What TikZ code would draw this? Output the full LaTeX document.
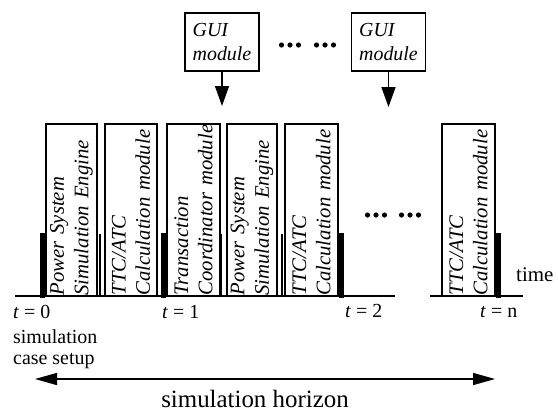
\documentclass[tikz,border=0pt]{standalone}
\usepackage{fontspec}
\setmainfont{Liberation Serif}
\usetikzlibrary{arrows.meta}
\hyphenpenalty=10000
\exhyphenpenalty=10000

\begin{document}
\begin{tikzpicture}[x=1bp,y=-1bp,
  stage/.style={draw, line width=1.3bp, rotate=90, minimum width=172bp,
    text width=171bp, inner xsep=0.5bp, inner ysep=0pt, align=left,
    font=\itshape\fontsize{20.8}{24.5}\selectfont},
  gui/.style={draw, line width=1.3bp, minimum width=74bp, minimum height=58bp,
    align=left, inner sep=0pt, font=\itshape\fontsize{20}{24}\selectfont},
  sepline/.style={line width=1.1bp},
  axisline/.style={line width=2.5bp},
  feed/.style={line width=1.4bp, -{Triangle[length=20bp,width=14bp]}},
  span/.style={line width=1.4bp,
    {Triangle[length=22bp,width=12bp]}-{Triangle[length=22bp,width=12bp]}},
  lbl/.style={anchor=base west, inner sep=0pt, font=\fontsize{20}{22}\selectfont}
]
\useasboundingbox (0,0) rectangle (558,411);

% time axis, split where the sequence is elided
\draw[axisline] (15,296) -- (395,296);
\draw[axisline] (430,296) -- (523,296);

% module stages along the time axis
\node[stage, minimum height=51bp] (s1) at (71.5,210) {Power System\\Simulation Engine};
\node[stage, minimum height=52bp] (s2) at (131,210) {TTC/ATC\\Calculation module};
\node[stage, minimum height=53bp] (s3) at (193.5,210) {Transaction\\Coordinator module};
\node[stage, minimum height=50bp] (s4) at (252,210) {Power System\\Simulation Engine};
\node[stage, minimum height=53bp] (s5) at (311.5,210) {TTC/ATC\\Calculation module};
\node[stage, minimum height=53bp] (s6) at (468.5,210) {TTC/ATC\\Calculation module};

% thin separators between consecutive modules
\draw[sepline] (100,234) -- (100,296);
\draw[sepline] (221.7,234) -- (221.7,296);
\draw[sepline] (282,234) -- (282,296);

% heavy markers at the time steps
\fill (40,233) rectangle (45,298);
\fill (161,233) rectangle (166,298);
\fill (339,233) rectangle (344,298);
\fill (496,233) rectangle (501,298);

% GUI modules feeding into the sequence
\node[gui] (g1) at (222,42) {GUI\\module};
\node[gui] (g2) at (388.5,42) {GUI\\module};
\coordinate (g1in) at (222,106);
\coordinate (g2in) at (388.5,107);
\draw[feed] (g1) -- (g1in);
\draw[feed] (g2) -- (g2in);

% ellipsis dots
\foreach \cx/\cy in {290/45, 325/45, 376/215, 410/215}
  \foreach \dx in {-8.5,0,8.5}
    \fill (\cx+\dx,\cy) circle (2.6bp);

% step labels
\node[lbl] (t0) at (13,318) {\textit{t} = 0};
\node[lbl] (t1) at (162,318) {\textit{t} = 1};
\node[lbl] (t2) at (345,317) {\textit{t} = 2};
\node[lbl] (tn) at (480,317) {\textit{t} = n};
\node[lbl] (setupa) at (13,343) {simulation};
\node[lbl] (setupb) at (13,364.5) {case setup};
\node[lbl, font=\fontsize{21}{24}\selectfont] (time) at (516,281) {time};

% simulation horizon
\coordinate (hl) at (35,379);
\coordinate (hr) at (495,379);
\draw[span] (hl) -- (hr);
\node[anchor=base, inner sep=0pt, font=\fontsize{25}{30}\selectfont] (horizon) at (255,407) {simulation horizon};
\end{tikzpicture}
\end{document}
